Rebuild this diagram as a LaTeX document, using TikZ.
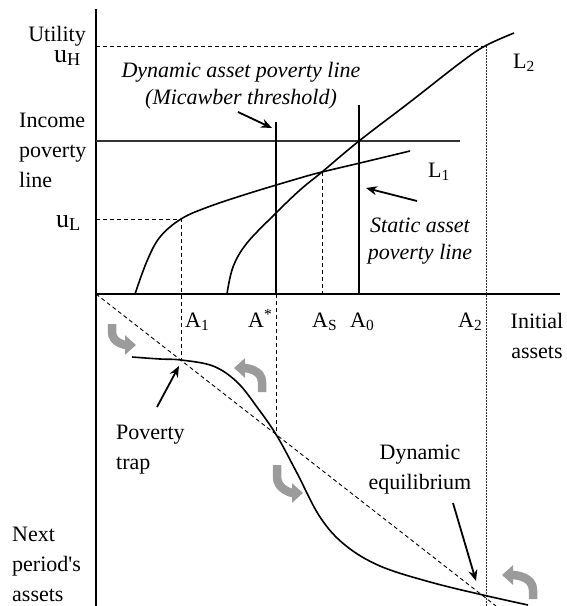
\documentclass[tikz,border=0pt]{standalone}
\usepackage{fontspec}
\setmainfont{Liberation Serif}
\usetikzlibrary{arrows.meta, positioning, calc}
\definecolor{turngray}{HTML}{9B9B9B}
\definecolor{linegray}{HTML}{333333}

\begin{document}
\begin{tikzpicture}[x=1pt, y=-1pt,
  font=\fontsize{22}{30}\selectfont,
  axis/.style={line width=1.3pt},
  curve/.style={line width=1.6pt},
  guide/.style={line width=0.9pt, dash pattern=on 4pt off 3pt},
  dotguide/.style={line width=0.9pt, dash pattern=on 1.5pt off 1.5pt, color=linegray},
  lbl/.style={inner sep=0pt, align=left},
  note/.style={inner sep=0pt, align=center, font=\fontsize{22}{27}\selectfont\itshape},
  arr/.style={-{Stealth[length=11pt, width=9pt]}, line width=1.8pt},
  turn/.style={-{Triangle[length=11pt, width=19pt]}, line width=8.5pt, color=turngray},
  bigu/.style={font=\fontsize{26}{30}\selectfont},
]
\useasboundingbox (0,0) rectangle (567,606);

% Axes
\coordinate (O) at (96,294);
\coordinate (ytop) at (96,9);
\coordinate (ybot) at (96,606);
\coordinate (xend) at (560,294);
\draw[axis] (ytop) -- (ybot);
\draw[axis] (O) -- (xend);

% Key points
\coordinate (uH) at (96,46);
\coordinate (topA2) at (486,46);
\coordinate (botA2) at (486,606);
\coordinate (uL) at (96,219);
\coordinate (ptL) at (181,219);
\coordinate (trap) at (181,360);
\coordinate (ipl) at (96,141);
\coordinate (iplend) at (460,141);
\coordinate (mictop) at (276,122);
\coordinate (micbase) at (276,294);
\coordinate (micbot) at (276,435);
\coordinate (statop) at (359,105);
\coordinate (stabase) at (359,294);
\coordinate (ptS) at (322,172);
\coordinate (baseS) at (322,294);
\coordinate (baseL) at (181,294);
\coordinate (diagend) at (496,606);

% Guide lines
\draw[guide] (uH) -- (topA2);
\draw[dotguide] (topA2) -- (botA2);
\draw[guide] (uL) -- (ptL) -- (baseL) -- (trap);
\draw[guide] (ptS) -- (baseS);
\draw[guide] (micbase) -- (micbot);
\draw[guide] (O) -- (diagend);

% Poverty lines
\draw[line width=1.1pt, color=linegray] (ipl) -- (iplend);
\draw[axis] (mictop) -- (micbase);
\draw[axis] (statop) -- (stabase);

% Livelihood curves
\draw[curve] plot[smooth, tension=0.6] coordinates {(135,294) (147,261) (160,237) (181,219)
  (208,207) (250,193) (300,178) (322,172) (360,163) (410,151)};
\draw[curve] plot[smooth, tension=0.6] coordinates {(227,294) (233,267) (247,243) (276,213)
  (300,190) (322,172) (359,141) (410,102) (460,63) (485,46) (514,33)};

% Asset dynamics
\draw[curve] plot[smooth, tension=0.6] coordinates {(132,357) (160,359) (181,360) (213,366)
  (237,382) (257,407) (277,436) (297,473) (320,517) (345,545) (380,566) (430,582)
  (483,595) (528,605)};

% Left labels
\node[lbl, anchor=base east] (util) at (86,41) {Utility};
\node[lbl, bigu, anchor=base east] (uHlbl) at (81,62) {u\textsubscript{H}};
\node[lbl, anchor=west] (income) at (19,150) {Income\\poverty\\line};
\node[lbl, bigu, anchor=base east] (uLlbl) at (81,227) {u\textsubscript{L}};
\node[lbl, anchor=west] (next) at (12,564) {Next\\period\textquotesingle s\\assets};

% Asset labels
\node[lbl, anchor=base west] (A1) at (185,327) {A\textsubscript{1}};
\node[lbl, anchor=base west] (Astar) at (248,327) {A\textsuperscript{*}};
\node[lbl, anchor=base west] (AS) at (312,327) {A\textsubscript{S}};
\node[lbl, anchor=base west] (A0) at (350,327) {A\textsubscript{0}};
\node[lbl, anchor=base west] (A2) at (458,327) {A\textsubscript{2}};
\node[lbl, align=center] (initial) at (537,336) {Initial\\assets};

% Curve labels
\node[lbl, anchor=base west] (L1) at (428,177) {L\textsubscript{1}};
\node[lbl, anchor=base west] (L2) at (513,68) {L\textsubscript{2}};

% Notes
\node[note] (micawber) at (241,86) {Dynamic asset poverty line\\(Micawber threshold)};
\node[note] (static) at (420,241) {Static asset\\poverty line};
\node[lbl, anchor=west] (trapnote) at (116,450) {Poverty\\trap};
\node[lbl, align=center] (eqnote) at (420,470) {Dynamic\\equilibrium};

% Pointers
\coordinate (micfrom) at (238,112);
\coordinate (micto) at (272,128);
\coordinate (stafrom) at (417,201);
\coordinate (stato) at (366,188);
\coordinate (trapfrom) at (157,407);
\coordinate (trapto) at (179,366);
\coordinate (eqfrom) at (453,503);
\coordinate (eqto) at (476,581);
\draw[arr] (micfrom) -- (micto);
\draw[arr] (stafrom) -- (stato);
\draw[arr] (trapfrom) -- (trapto);
\draw[arr] (eqfrom) -- (eqto);

% Direction of motion
\draw[turn] (112,324) -- (112,332) to[out=-90, in=180] (136,345);
\draw[turn] (262,392) -- (262,382) to[out=90, in=0] (234,368);
\draw[turn] (277,465) -- (277,477) to[out=-90, in=180] (303,493);
\draw[turn] (533,599) -- (533,590) to[out=90, in=0] (502,575);

\end{tikzpicture}
\end{document}
